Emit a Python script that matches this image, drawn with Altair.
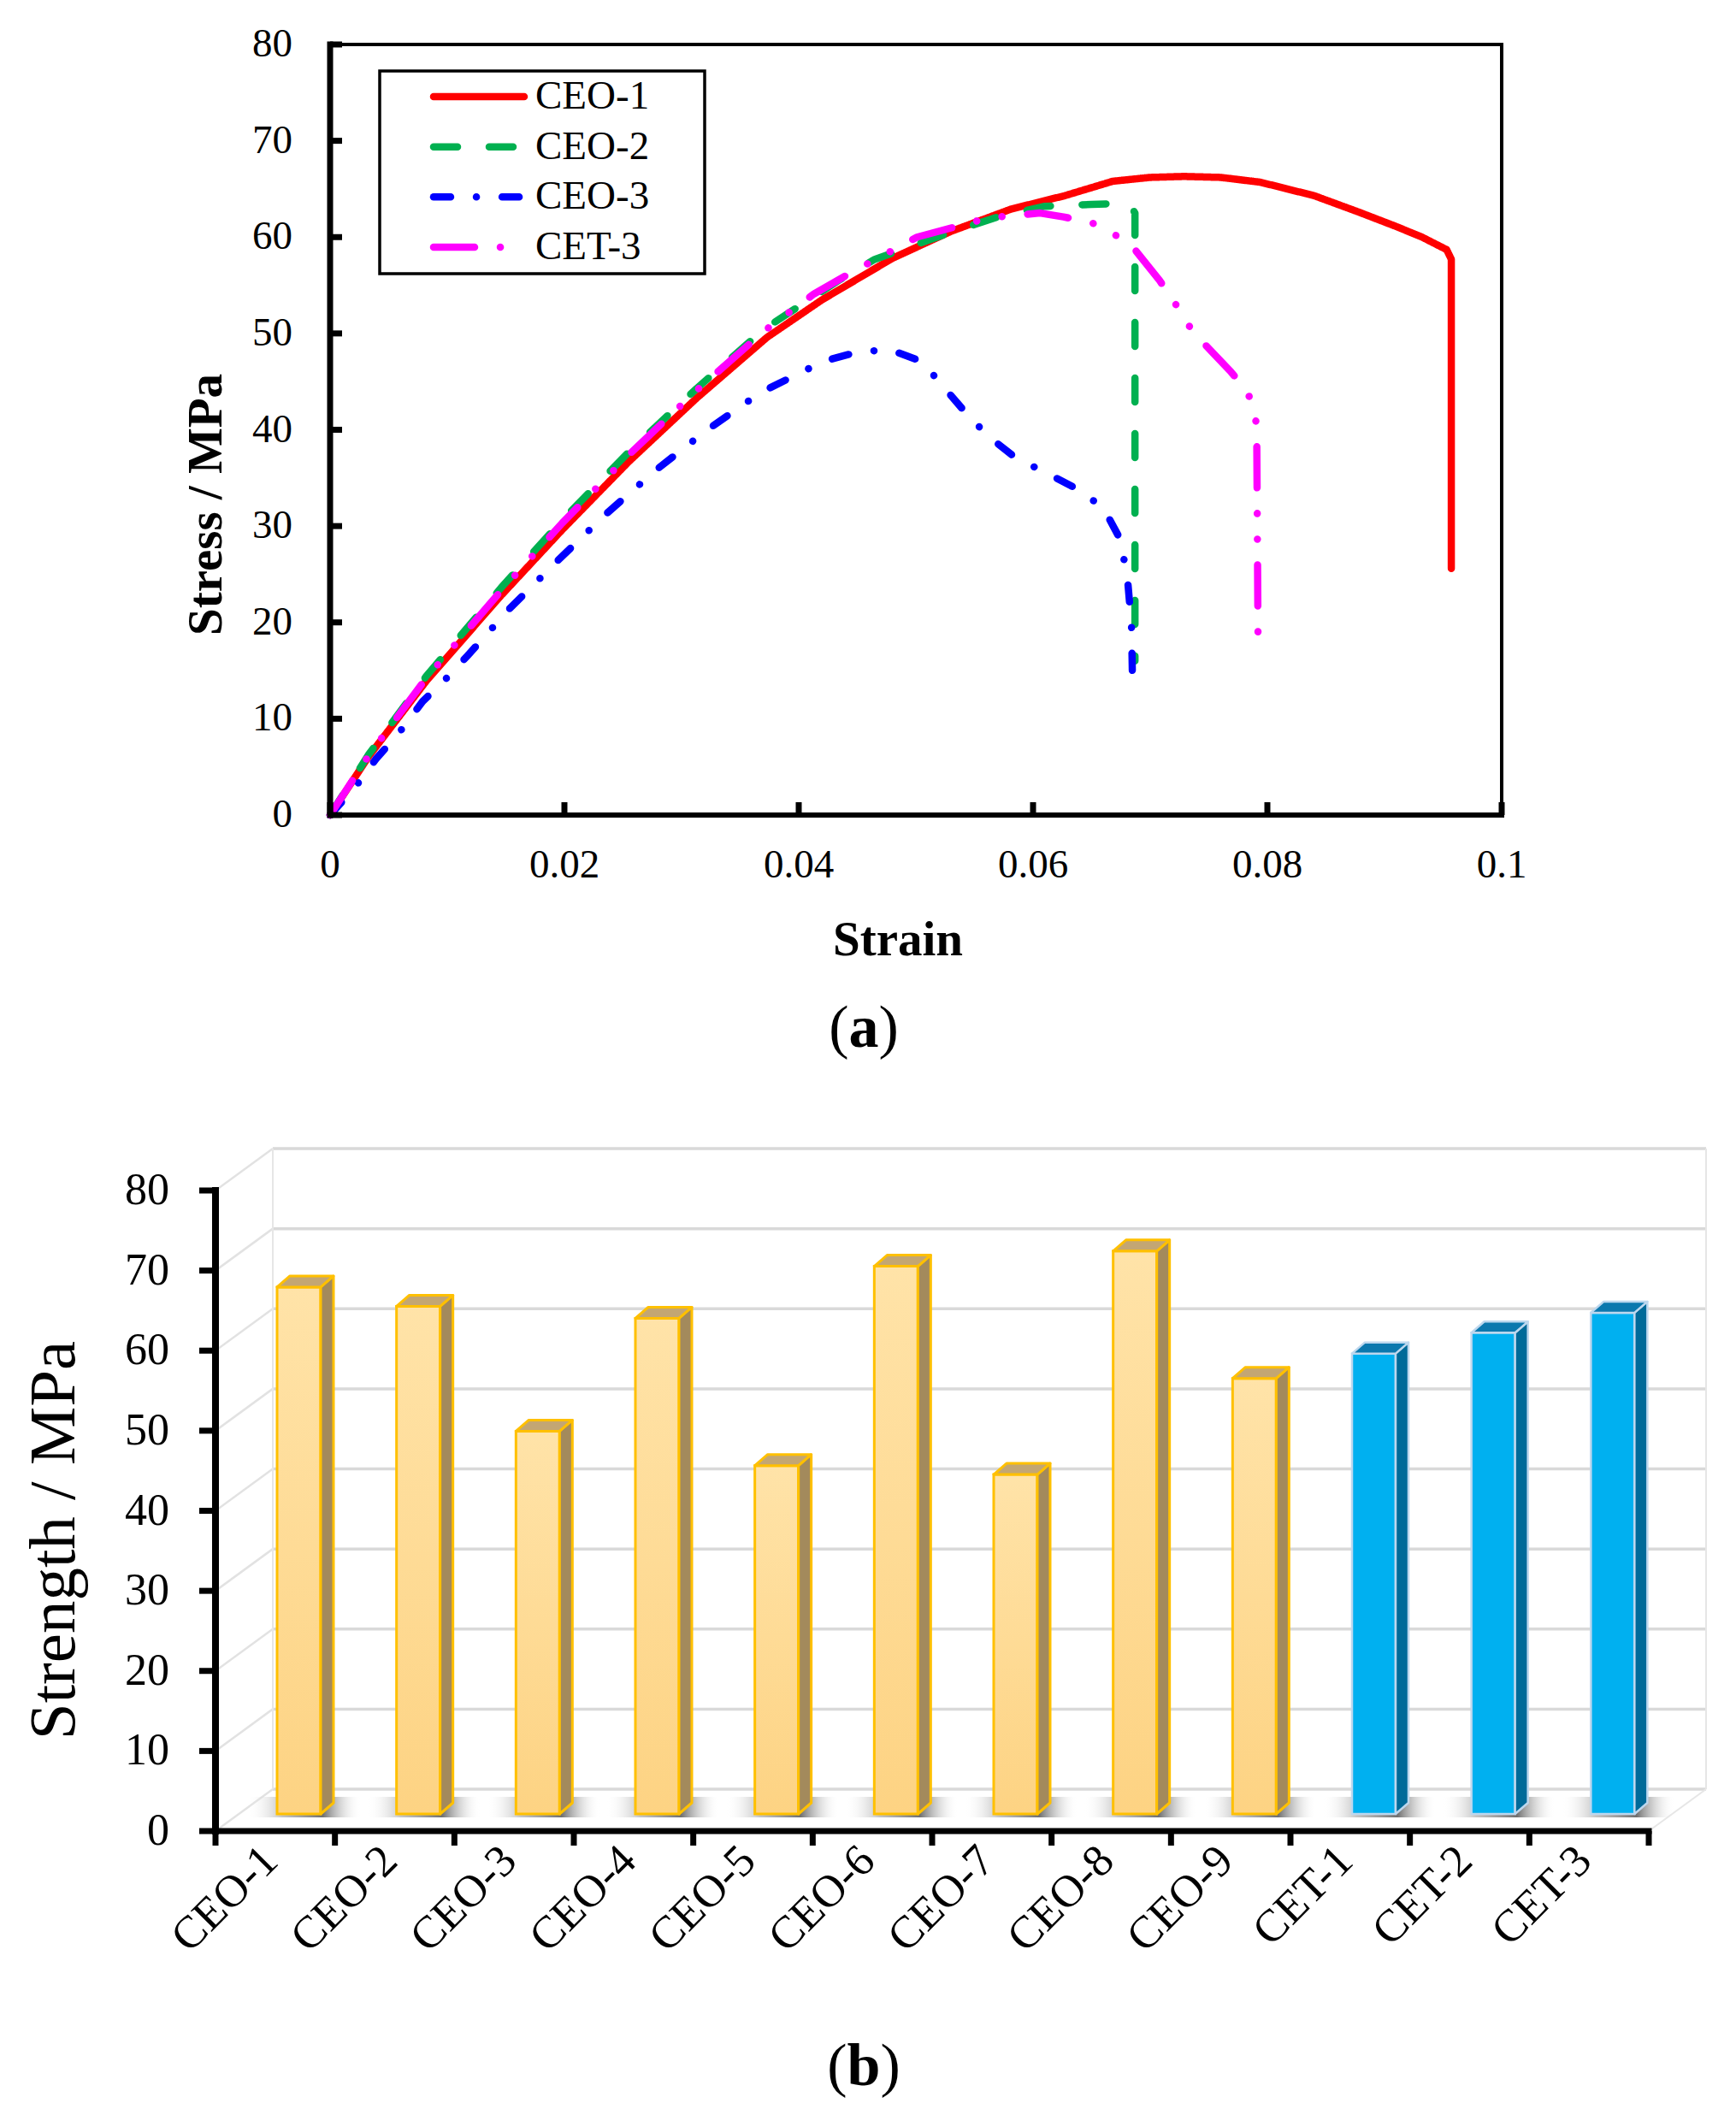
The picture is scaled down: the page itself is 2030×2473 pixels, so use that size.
import altair as alt
import pandas as pd

SERIF = "Liberation Serif"

# ------------------------------------------------------------------
# Panel (a): stress-strain curves
# ------------------------------------------------------------------
series_names = ["CEO-1", "CEO-2", "CEO-3", "CET-3"]
series_colors = ["#FF0000", "#00B050", "#0000FF", "#FF00FF"]
series_dashes = [[1, 0], [28, 37], [20, 30, 0.1, 30], [48, 30, 0.1, 30, 0.1, 30]]

ceo1_strain = [0, 0.0033, 0.0082, 0.0146, 0.0198, 0.0255, 0.0313, 0.0373, 0.0420, 0.0480,
               0.0530, 0.0581, 0.0627, 0.0668, 0.0700, 0.0729, 0.0760, 0.0794, 0.0840, 0.0878,
               0.0910, 0.0932, 0.0953, 0.0957, 0.0957]
ceo1_stress = [0, 6.1, 13.9, 22.8, 29.6, 36.7, 43.3, 49.6, 53.5, 57.8,
               60.6, 62.9, 64.3, 65.8, 66.2, 66.3, 66.2, 65.7, 64.3, 62.6,
               61.1, 60.0, 58.7, 57.7, 25.6]

ceo2_strain = [0, 0.0033, 0.0082, 0.0146, 0.0198, 0.0255, 0.0313, 0.0371, 0.0434, 0.0465,
               0.0532, 0.0570, 0.0610, 0.0650, 0.0676, 0.0683, 0.0687, 0.0687]
ceo2_stress = [0, 6.3, 14.4, 23.6, 30.6, 37.7, 44.3, 50.5, 55.5, 57.7,
               60.6, 62.1, 63.2, 63.4, 63.5, 63.3, 62.5, 16.0]

ceo3_strain = [0, 0.0022, 0.0039, 0.0058, 0.0079, 0.0097, 0.0117, 0.0153, 0.0195, 0.0235,
               0.0278, 0.0322, 0.0368, 0.0421, 0.0451, 0.0478, 0.0505, 0.0524, 0.0543, 0.0562,
               0.0585, 0.0610, 0.0637, 0.0660, 0.0675, 0.0681, 0.0684, 0.0685]
ceo3_stress = [0, 3.0, 5.8, 8.4, 11.8, 13.9, 16.5, 21.4, 26.5, 31.2,
               35.8, 40.0, 43.9, 47.1, 48.1, 48.3, 47.1, 44.4, 41.7, 39.3,
               37.1, 35.6, 33.9, 31.9, 28.5, 24.0, 19.8, 13.2]

cet3_strain = [0, 0.0033, 0.0082, 0.0146, 0.0198, 0.0255, 0.0313, 0.0371, 0.0413, 0.0446,
               0.0501, 0.0562, 0.0606, 0.0626, 0.0650, 0.0668, 0.0685, 0.0708, 0.0720, 0.0731,
               0.0744, 0.0769, 0.0783, 0.0790, 0.0791, 0.0792]
cet3_stress = [0, 6.2, 14.2, 23.3, 30.3, 37.4, 44.1, 50.3, 54.1, 56.4,
               60.0, 62.0, 62.5, 62.1, 61.5, 60.4, 59.0, 55.5, 53.4, 51.1,
               49.2, 46.0, 44.0, 41.4, 38.3, 19.0]

strain_ticks = [0, 0.02, 0.04, 0.06, 0.08, 0.1]
stress_ticks = [0, 10, 20, 30, 40, 50, 60, 70, 80]

# ------------------------------------------------------------------
# Panel (b): strength bars
# ------------------------------------------------------------------
sample_names = ["CEO-1", "CEO-2", "CEO-3", "CEO-4", "CEO-5", "CEO-6",
                "CEO-7", "CEO-8", "CEO-9", "CET-1", "CET-2", "CET-3"]
sample_group = ["CEO"] * 9 + ["CET"] * 3
strength_mpa = [65.8, 63.4, 47.8, 61.9, 43.5, 68.4, 42.4, 70.3, 54.4, 57.5, 60.1, 62.6]
strength_ticks = [0, 10, 20, 30, 40, 50, 60, 70, 80]

# ------------------------------------------------------------------
# Layout (view pixels)
# ------------------------------------------------------------------
W, H = 2014, 2457
A_X0, A_X1, A_Y0, A_Y1 = 378, 1748, 945, 44
B_X0, B_X1, B_Y0, B_Y1 = 244, 1920, 2133, 1384

one = pd.DataFrame({"_": [0]})


def txt(**kw):
    base = dict(font=SERIF, color="black")
    base.update(kw)
    return base


# ---------------- panel (a) ----------------
xa = alt.Scale(domain=[0, 0.1], range=[A_X0, A_X1], nice=False, zero=False)
ya = alt.Scale(domain=[0, 80], range=[A_Y0, A_Y1], nice=False)


def XA(v):
    return alt.XDatum(v, scale=xa, axis=None)


def YA(v):
    return alt.YDatum(v, scale=ya, axis=None)


rows = []
for name, xs, ys in zip(series_names,
                        [ceo1_strain, ceo2_strain, ceo3_strain, cet3_strain],
                        [ceo1_stress, ceo2_stress, ceo3_stress, cet3_stress]):
    for k, (sx, sy) in enumerate(zip(xs, ys)):
        rows.append({"series": name, "strain": sx, "stress": sy, "k": k})
curves = pd.DataFrame(rows)

color_scale = alt.Scale(domain=series_names, range=series_colors)
dash_scale = alt.Scale(domain=series_names, range=series_dashes)

lines = alt.Chart(curves).mark_line(strokeWidth=8.5, strokeCap="round", strokeJoin="round").encode(
    x=alt.X("strain:Q", scale=xa, axis=None),
    y=alt.Y("stress:Q", scale=ya, axis=None),
    color=alt.Color("series:N", scale=color_scale, legend=None),
    strokeDash=alt.StrokeDash("series:N", scale=dash_scale, legend=None),
    order="k:Q",
)

a_left = alt.Chart(one).mark_rule(color="black", strokeWidth=7, strokeCap="square").encode(
    x=XA(0), y=YA(0), y2=alt.Y2Datum(80))
a_bottom = alt.Chart(one).mark_rule(color="black", strokeWidth=6, strokeCap="square").encode(
    x=XA(0), x2=alt.X2Datum(0.1), y=YA(0))
a_top = alt.Chart(one).mark_rule(color="black", strokeWidth=4, strokeCap="square").encode(
    x=XA(0), x2=alt.X2Datum(0.1), y=YA(80))
a_right = alt.Chart(one).mark_rule(color="black", strokeWidth=4, strokeCap="square").encode(
    x=XA(0.1), y=YA(0), y2=alt.Y2Datum(80))

xt_df = pd.DataFrame({"t": strain_ticks})
yt_df = pd.DataFrame({"t": stress_ticks})
a_xticks = alt.Chart(xt_df).mark_rule(color="black", strokeWidth=7, y2Offset=-15).encode(
    x=alt.X("t:Q", scale=xa, axis=None), y=YA(0), y2=alt.Y2Datum(0))
a_yticks = alt.Chart(yt_df).mark_rule(color="black", strokeWidth=7, x2Offset=14).encode(
    y=alt.Y("t:Q", scale=ya, axis=None), x=XA(0), x2=alt.X2Datum(0))
a_xlabels = alt.Chart(xt_df).mark_text(**txt(fontSize=47, align="center", baseline="alphabetic", dy=73)).encode(
    x=alt.X("t:Q", scale=xa, axis=None), y=YA(0), text=alt.Text("t:Q", format="~g"))
a_ylabels = alt.Chart(yt_df).mark_text(**txt(fontSize=47, align="right", baseline="middle", dx=-44)).encode(
    y=alt.Y("t:Q", scale=ya, axis=None), x=XA(0), text=alt.Text("t:Q", format="~g"))
a_xtitle = alt.Chart(one).mark_text(**txt(text="Strain", fontSize=57, fontWeight="bold",
                                          align="center", baseline="alphabetic")).encode(
    x=alt.value(1042), y=alt.value(1109))
a_ytitle = alt.Chart(one).mark_text(**txt(text="Stress / MPa", fontSize=57, fontWeight="bold",
                                          align="center", baseline="alphabetic", angle=270)).encode(
    x=alt.value(251), y=alt.value(582))

panel_a = alt.layer(lines, a_top, a_right, a_left, a_bottom, a_xticks, a_yticks,
                    a_xlabels, a_ylabels, a_xtitle, a_ytitle)

# legend of panel (a)
legend_df = pd.DataFrame({"series": series_names, "row": list(range(len(series_names)))})
row_scale = alt.Scale(domain=[0, len(series_names) - 1], range=[105, 281], nice=False, zero=False)
legend_frame = alt.Chart(one).mark_rect(fill="white", stroke="black", strokeWidth=3.5).encode(
    x=alt.value(436), x2=alt.value(816), y=alt.value(75), y2=alt.value(312))
legend_lines = alt.Chart(legend_df).mark_rule(strokeWidth=8.5, strokeCap="round").encode(
    x=alt.value(499), x2=alt.value(605),
    y=alt.Y("row:Q", scale=row_scale, axis=None),
    color=alt.Color("series:N", scale=color_scale, legend=None),
    strokeDash=alt.StrokeDash("series:N", scale=dash_scale, legend=None))
legend_text = alt.Chart(legend_df).mark_text(**txt(align="left", baseline="middle", fontSize=47)).encode(
    x=alt.value(618), y=alt.Y("row:Q", scale=row_scale, axis=None), text="series:N")
legend = alt.layer(legend_frame, legend_lines, legend_text)

# ---------------- panel (b) ----------------
NCAT = len(sample_names)
xb = alt.Scale(domain=[0, NCAT], range=[B_X0, B_X1], nice=False, zero=False)
yb = alt.Scale(domain=[0, 80], range=[B_Y0, B_Y1], nice=False)
PPU_X = (B_X1 - B_X0) / NCAT
PPU_Y = (B_Y0 - B_Y1) / 80.0


def XB(v):
    return alt.XDatum(v, scale=xb, axis=None)


def YB(v):
    return alt.YDatum(v, scale=yb, axis=None)


def ux(px):
    return px / PPU_X


def uy(px):
    return px / PPU_Y


# 3-D look (pixels)
WALL_DX, WALL_DY = 67, 49          # depth of the back wall
FRONT_L, FRONT_R = 72, 123         # bar front face inside its category
LIFT = 20                          # bar plane above front axis
BAR_DX, BAR_DY = 15, 13            # bar depth
SH_L, SH_R, SH_Y0, SH_Y1 = 38, 170, 16, 40

bars = pd.DataFrame({"sample": sample_names, "group": sample_group, "value": strength_mpa})
bars["idx"] = list(range(NCAT))
bars["center"] = bars["idx"] + 0.5
bars["fl"] = bars["idx"] + ux(FRONT_L)
bars["fr"] = bars["idx"] + ux(FRONT_R)
bars["base"] = uy(LIFT)
bars["top"] = bars["value"] + uy(LIFT)
bars["sh0"] = bars["idx"] + ux(SH_L)
bars["sh1"] = bars["idx"] + ux(SH_R)
bars["shy0"] = uy(SH_Y0)
bars["shy1"] = uy(SH_Y1)

dxu, dyu = ux(BAR_DX), uy(BAR_DY)
side_rows, top_rows = [], []
for r in bars.itertuples(index=False):
    side_rows += [
        {"sample": r.sample, "group": r.group, "x": r.fr, "lo": r.base, "hi": r.top},
        {"sample": r.sample, "group": r.group, "x": r.fr + dxu, "lo": r.base + dyu, "hi": r.top + dyu},
    ]
    top_rows += [
        {"sample": r.sample, "group": r.group, "x": r.fl, "lo": r.top, "hi": r.top},
        {"sample": r.sample, "group": r.group, "x": r.fl + dxu, "lo": r.top, "hi": r.top + dyu},
        {"sample": r.sample, "group": r.group, "x": r.fr, "lo": r.top, "hi": r.top + dyu},
        {"sample": r.sample, "group": r.group, "x": r.fr + dxu, "lo": r.top + dyu, "hi": r.top + dyu},
    ]
side_df = pd.DataFrame(side_rows)
top_df = pd.DataFrame(top_rows)

grid = pd.DataFrame({"v": strength_ticks})
grid["gy"] = grid["v"] + uy(WALL_DY)
grid["gx0"] = ux(WALL_DX)
grid["gx1"] = NCAT + ux(WALL_DX)
grid["sx0"] = 0.0
edges = pd.DataFrame({"ex": [ux(WALL_DX), NCAT + ux(WALL_DX)]})
edges["ey0"] = uy(WALL_DY)
edges["ey1"] = strength_ticks[-1] + uy(WALL_DY)
floor_edge = pd.DataFrame({"x0": [float(NCAT)], "y0": [0.0],
                           "x1": [NCAT + ux(WALL_DX)], "y1": [uy(WALL_DY)]})

back_grid = alt.Chart(grid).mark_rule(color="#D9D9D9", strokeWidth=3.5).encode(
    x=alt.X("gx0:Q", scale=xb, axis=None), x2="gx1:Q",
    y=alt.Y("gy:Q", scale=yb, axis=None))
side_grid = alt.Chart(grid).mark_rule(color="#E2E2E2", strokeWidth=2.5).encode(
    x=alt.X("sx0:Q", scale=xb, axis=None), x2="gx0:Q",
    y=alt.Y("v:Q", scale=yb, axis=None), y2="gy:Q")
wall_edges = alt.Chart(edges).mark_rule(color="#E6E6E6", strokeWidth=2).encode(
    x=alt.X("ex:Q", scale=xb, axis=None),
    y=alt.Y("ey0:Q", scale=yb, axis=None), y2="ey1:Q")
floor_line = alt.Chart(floor_edge).mark_rule(color="#E6E6E6", strokeWidth=2).encode(
    x=alt.X("x0:Q", scale=xb, axis=None), x2="x1:Q",
    y=alt.Y("y0:Q", scale=yb, axis=None), y2="y1:Q")

shadow_fill = alt.Gradient(
    gradient="linear", x1=0, x2=1, y1=0, y2=0,
    stops=[alt.GradientStop(color="rgba(255,255,255,0)", offset=0),
           alt.GradientStop(color="rgba(165,165,165,0.65)", offset=0.3),
           alt.GradientStop(color="rgba(95,95,95,0.9)", offset=0.66),
           alt.GradientStop(color="rgba(255,255,255,0)", offset=1)])
shadows = alt.Chart(bars).mark_rect(fill=shadow_fill).encode(
    x=alt.X("sh0:Q", scale=xb, axis=None), x2="sh1:Q",
    y=alt.Y("shy0:Q", scale=yb, axis=None), y2="shy1:Q")

ceo_front_fill = alt.Gradient(
    gradient="linear", x1=0, x2=0, y1=0, y2=1,
    stops=[alt.GradientStop(color="#FFE3A8", offset=0),
           alt.GradientStop(color="#FDD383", offset=1)])

STYLE = {
    "CEO": {"front": ceo_front_fill, "side": "#A38A5C", "top": "#C3A673", "edge": "#FFC000", "w": 3},
    "CET": {"front": "#00B0F0", "side": "#006A99", "top": "#0B78AE", "edge": "#BDD7EE", "w": 2.5},
}

bar_layers = []
for g in ["CEO", "CET"]:
    st = STYLE[g]
    bar_layers.append(
        alt.Chart(bars).transform_filter(alt.datum.group == g).mark_rect(
            fill=st["front"], stroke=st["edge"], strokeWidth=st["w"]).encode(
            x=alt.X("fl:Q", scale=xb, axis=None), x2="fr:Q",
            y=alt.Y("base:Q", scale=yb, axis=None), y2="top:Q"))
for g in ["CEO", "CET"]:
    st = STYLE[g]
    bar_layers.append(
        alt.Chart(side_df).transform_filter(alt.datum.group == g).mark_area(
            fill=st["side"], stroke=st["edge"], strokeWidth=st["w"], strokeJoin="round").encode(
            x=alt.X("x:Q", scale=xb, axis=None), y=alt.Y("lo:Q", scale=yb, axis=None),
            y2="hi:Q", detail="sample:N"))
for g in ["CEO", "CET"]:
    st = STYLE[g]
    bar_layers.append(
        alt.Chart(top_df).transform_filter(alt.datum.group == g).mark_area(
            fill=st["top"], stroke=st["edge"], strokeWidth=st["w"], strokeJoin="round").encode(
            x=alt.X("x:Q", scale=xb, axis=None), y=alt.Y("lo:Q", scale=yb, axis=None),
            y2="hi:Q", detail="sample:N"))

# axes of panel (b), drawn from the tick lists
cat_edges = pd.DataFrame({"i": list(range(NCAT + 1))})
sb_df = pd.DataFrame({"t": strength_ticks})
b_left = alt.Chart(one).mark_rule(color="black", strokeWidth=8, strokeCap="square").encode(
    x=XB(0), y=YB(0), y2=alt.Y2Datum(80))
b_bottom = alt.Chart(one).mark_rule(color="black", strokeWidth=7, strokeCap="square").encode(
    x=XB(0), x2=alt.X2Datum(NCAT), y=YB(0))
b_yticks = alt.Chart(sb_df).mark_rule(color="black", strokeWidth=7, x2Offset=-19).encode(
    y=alt.Y("t:Q", scale=yb, axis=None), x=XB(0), x2=alt.X2Datum(0))
b_xticks = alt.Chart(cat_edges).mark_rule(color="black", strokeWidth=7, y2Offset=17).encode(
    x=alt.X("i:Q", scale=xb, axis=None), y=YB(0), y2=alt.Y2Datum(0))
b_ylabels = alt.Chart(sb_df).mark_text(**txt(fontSize=52, align="right", baseline="middle", dx=-54)).encode(
    y=alt.Y("t:Q", scale=yb, axis=None), x=XB(0), text=alt.Text("t:Q", format="~g"))
b_ytitle = alt.Chart(one).mark_text(**txt(text="Strength / MPa", fontSize=77, align="center",
                                          baseline="alphabetic", angle=270)).encode(
    x=alt.value(79), y=alt.value(1793))
cat_labels = alt.Chart(bars).mark_text(**txt(angle=315, align="right", baseline="top",
                                             fontSize=53, xOffset=-24)).encode(
    x=alt.X("center:Q", scale=xb, axis=None), y=alt.value(2141), text="sample:N")

panel_b = alt.layer(back_grid, side_grid, wall_edges, floor_line, shadows, *bar_layers,
                    b_left, b_bottom, b_yticks, b_xticks, b_ylabels, b_ytitle, cat_labels)


# ---------------- captions ----------------
def caption(letter, cx, base_y, half):
    common = txt(baseline="alphabetic", fontSize=70)
    return [
        alt.Chart(one).mark_text(text="(", align="right", **common).encode(
            x=alt.value(cx - half), y=alt.value(base_y)),
        alt.Chart(one).mark_text(text=letter, align="center", fontWeight="bold", **common).encode(
            x=alt.value(cx), y=alt.value(base_y)),
        alt.Chart(one).mark_text(text=")", align="left", **common).encode(
            x=alt.value(cx + half), y=alt.value(base_y)),
    ]


caps = caption("a", 1002, 1216, 17.5) + caption("b", 1002, 2430, 19.5)

chart = alt.layer(panel_a, legend, panel_b, *caps).resolve_scale(
    x="independent", y="independent"
).properties(
    width=W, height=H, padding=0, autosize=alt.AutoSizeParams(type="none")
).configure_view(strokeWidth=0)

chart.save("out.html", embed_options={"renderer": "svg", "actions": False})
